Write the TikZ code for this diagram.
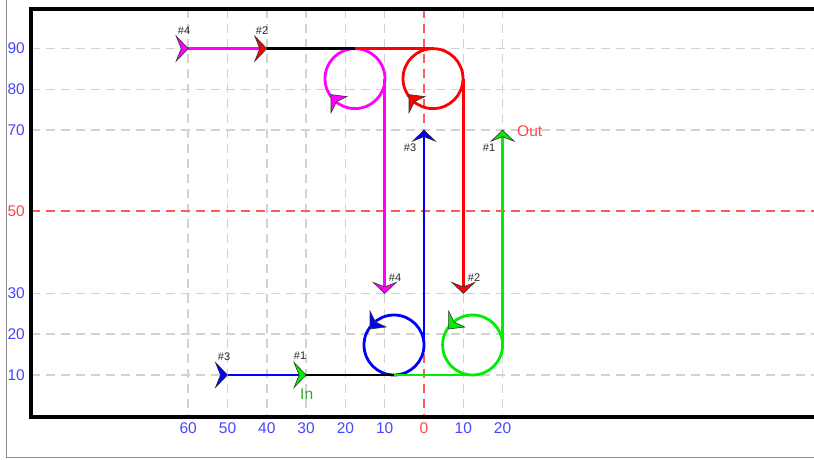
\documentclass[tikz,border=0pt]{standalone}
\usepackage{fontspec}
\setmainfont{Liberation Sans}
\definecolor{gridgray}{HTML}{D2D2D2}
\definecolor{axisblue}{HTML}{4646FF}
\definecolor{axisred}{HTML}{FF4646}
\definecolor{gridred}{HTML}{FF5A5A}
\definecolor{pmag}{HTML}{FF00FF}
\definecolor{pred}{HTML}{FF0000}
\definecolor{pblue}{HTML}{0000FF}
\definecolor{pgreen}{HTML}{00EE00}
\definecolor{ingreen}{HTML}{2EAA2E}
\tikzset{
  gridline/.style={draw=gridgray, line width=1.5pt, dash pattern=on 9pt off 6pt},
  redgrid/.style={draw=gridred, line width=1.5pt, dash pattern=on 9pt off 6pt},
  route/.style={line width=2.8pt},
  frameline/.style={draw=black, line width=4pt, line join=miter},
  outerline/.style={draw=black!45, line width=1pt},
  axlab/.style={font=\fontsize{15.5}{18}\selectfont, inner sep=0pt, text=axisblue},
  tag/.style={font=\fontsize{11}{12}\selectfont, inner sep=0pt, text=black!85},
  mk/.style={draw=black!80, line width=0.6pt, line join=miter},
}
\begin{document}
\begin{tikzpicture}[x=1pt,y=-1pt]
\useasboundingbox (0,0) rectangle (814,459);
\fill[white] (0,0) rectangle (814,459);
% grid
\foreach \gx in {188.2,227.5,266.8,306.1,345.4,384.7,463.3,502.6}
  \draw[gridline] (\gx,8.5) -- (\gx,416.5);
\foreach \gy in {48.6,89.4,130.2,293.4,334.2,375}
  \draw[gridline] (31,\gy) -- (814,\gy);
\draw[redgrid] (424,8.5) -- (424,416.5);
\draw[redgrid, line width=2pt] (31,211) -- (814,211);
% frames
\draw[outerline] (6,0) -- (6,457.5) -- (814,457.5);
\draw[frameline] (814,8.5) -- (31,8.5) -- (31,416.5) -- (814,416.5);
% axis labels
\foreach \v/\gy in {90/48.6,80/89.4,70/130.2,30/293.4,20/334.2,10/375}
  \node[axlab, anchor=east] (ylab\v) at (25,\gy) {\v};
\node[axlab, anchor=east, text=axisred] (ylab50) at (25,211.5) {50};
\foreach \v/\gx/\nm in {60/188.2/a,50/227.5/b,40/266.8/c,30/306.1/d,20/345.4/e,10/384.7/f,10/463.3/g,20/502.6/h}
  \node[axlab] (xlab\nm) at (\gx,428) {\v};
\node[axlab, text=axisred] (xlab0) at (424,428) {0};
% way points
\coordinate (m0) at (188.2,48.6);
\coordinate (mtop) at (355,48.6);
\coordinate (mc) at (355,78.6);
\coordinate (mR) at (384.7,78.6);
\coordinate (m1) at (384.7,293.4);
\coordinate (r0) at (266.8,48.6);
\coordinate (rtop) at (433,48.6);
\coordinate (rc) at (433,78.6);
\coordinate (rR) at (463.3,78.6);
\coordinate (r1) at (463.3,293.4);
\coordinate (b0) at (227.5,375);
\coordinate (g0) at (306.1,375);
\coordinate (bbot) at (394,375);
\coordinate (bc) at (394,345);
\coordinate (bR) at (424,345);
\coordinate (b1) at (424,130.2);
\coordinate (gbot) at (472.6,375);
\coordinate (gc) at (472.6,345);
\coordinate (gR) at (502.6,345);
\coordinate (g1) at (502.6,130.2);
% routes
\draw[route, pmag] (m0) -- (r0);
\draw[route, pmag] (mc) circle[radius=30];
\draw[route, pmag] (mR) -- (m1);
\draw[route, pred] (mtop) -- (rtop);
\draw[route, pred] (rc) circle[radius=30];
\draw[route, pred] (rR) -- (r1);
\draw[route, black] (r0) -- (mtop);
\draw[route, pblue] (b0) -- (g0);
\draw[route, pblue] (bc) circle[radius=30];
\draw[route, pblue] (bR) -- (b1);
\draw[route, pgreen] (bbot) -- (gbot);
\draw[route, pgreen] (gc) circle[radius=30];
\draw[route, pgreen] (gR) -- (g1);
\draw[route, black] (g0) -- (bbot);
% start / end markers
\draw[mk, fill=pmag, shift={(m0)}] (0,0) -- (-12,-12.5) -- (-7,0) -- (-12,12.5) -- cycle;
\draw[mk, fill=pred, shift={(r0)}] (0,0) -- (-12,-12.5) -- (-7,0) -- (-12,12.5) -- cycle;
\draw[mk, fill=pblue, shift={(b0)}] (0,0) -- (-12,-12.5) -- (-7,0) -- (-12,12.5) -- cycle;
\draw[mk, fill=pgreen, shift={(g0)}] (0,0) -- (-12,-12.5) -- (-7,0) -- (-12,12.5) -- cycle;
\draw[mk, fill=pmag, shift={(m1)}] (0,0) -- (-11.5,-11) -- (0,-6.5) -- (11.5,-11) -- cycle;
\draw[mk, fill=pred, shift={(r1)}] (0,0) -- (-11.5,-11) -- (0,-6.5) -- (11.5,-11) -- cycle;
\draw[mk, fill=pblue, shift={(b1)}] (0,0) -- (-11.5,11) -- (0,6.5) -- (11.5,11) -- cycle;
\draw[mk, fill=pgreen, shift={(g1)}] (0,0) -- (-11.5,11) -- (0,6.5) -- (11.5,11) -- cycle;
% loop direction arrows
\draw[mk, fill=pmag, shift={(mc)}] (-24,16) -- (-24,34) -- (-18.5,23) -- (-8,18) -- cycle;
\draw[mk, fill=pred, shift={(rc)}] (-24,16) -- (-24,34) -- (-18.5,23) -- (-8,18) -- cycle;
\draw[mk, fill=pblue, shift={(bc)}] (-24,-16) -- (-24,-34) -- (-18.5,-23) -- (-8,-18) -- cycle;
\draw[mk, fill=pgreen, shift={(gc)}] (-24,-16) -- (-24,-34) -- (-18.5,-23) -- (-8,-18) -- cycle;
% tags
\node[tag] (t4s) at (184,31) {\#4};
\node[tag] (t2s) at (262,31) {\#2};
\node[tag] (t3s) at (224,357) {\#3};
\node[tag] (t1s) at (300,356) {\#1};
\node[tag] (t4e) at (395,278) {\#4};
\node[tag] (t2e) at (474,278) {\#2};
\node[tag] (t3e) at (410,148) {\#3};
\node[tag] (t1e) at (489,148) {\#1};
\node[axlab, anchor=west, text=ingreen] (inlab) at (300,394.5) {In};
\node[axlab, anchor=west, text=axisred] (outlab) at (517,131) {Out};
\end{tikzpicture}
\end{document}
